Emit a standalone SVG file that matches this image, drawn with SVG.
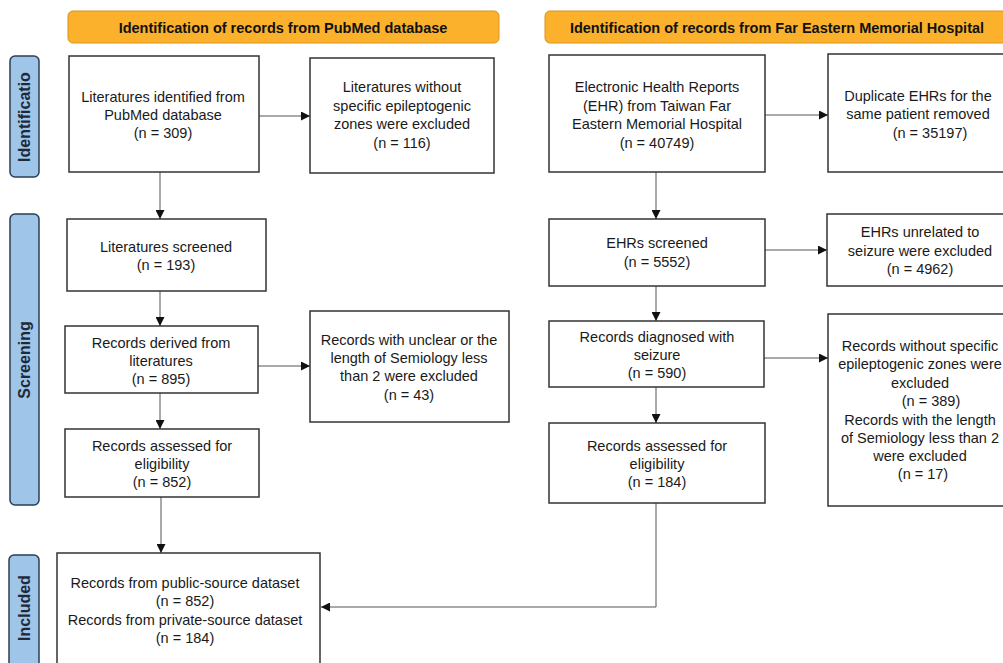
<svg xmlns="http://www.w3.org/2000/svg" width="1003" height="663" viewBox="0 0 1003 663">
<defs>
<marker id="arr" viewBox="0 0 10 10" refX="10" refY="5" markerWidth="9" markerHeight="9" markerUnits="userSpaceOnUse" orient="auto">
<path d="M0,0 L10,5 L0,10 z" fill="#111"/>
</marker>
<style>
.box{fill:#fff;stroke:#333;stroke-width:1.5}
.hdr{fill:#FBB12B;stroke:#D8951F;stroke-width:1}
.side{fill:#9FC5E8;stroke:#2B3E55;stroke-width:1.5}
.t{font-family:"Liberation Sans",Arial,sans-serif;font-size:14.5px;fill:#1a1a1a;text-anchor:middle}
.hb{font-family:"Liberation Sans",Arial,sans-serif;font-size:14.5px;font-weight:bold;fill:#111;text-anchor:middle}
.sb{font-family:"Liberation Sans",Arial,sans-serif;font-size:16px;font-weight:bold;fill:#1E2A3A;text-anchor:middle}
.c{fill:none;stroke:#555;stroke-width:1}
</style>
</defs>
<rect width="1003" height="663" fill="#fff"/>

<g id="header-pubmed"><rect class="hdr" x="68" y="11" width="431" height="32" rx="5"/><text class="hb" x="283" y="33">Identification of records from PubMed database</text></g>
<g id="header-hospital"><rect class="hdr" x="545" y="11" width="465" height="32" rx="5"/><text class="hb" x="777" y="33">Identification of records from Far Eastern Memorial Hospital</text></g>

<g id="side-identification"><rect class="side" x="10" y="56" width="29" height="121" rx="5"/><text class="sb" transform="translate(30,117) rotate(-90)">Identificatio</text></g>
<g id="side-screening"><rect class="side" x="10" y="214" width="29" height="291" rx="5"/><text class="sb" transform="translate(30,360) rotate(-90)">Screening</text></g>
<g id="side-included"><rect class="side" x="9" y="555" width="30" height="120" rx="5"/><text class="sb" transform="translate(30,608) rotate(-90)">Included</text></g>

<g id="connectors">
<path class="c" d="M259,116 H310" marker-end="url(#arr)"/>
<path class="c" d="M160,172 V219" marker-end="url(#arr)"/>
<path class="c" d="M160,291 V326" marker-end="url(#arr)"/>
<path class="c" d="M258,366 H310" marker-end="url(#arr)"/>
<path class="c" d="M160,393 V429" marker-end="url(#arr)"/>
<path class="c" d="M161,497 V553" marker-end="url(#arr)"/>
<path class="c" d="M765,115 H828" marker-end="url(#arr)"/>
<path class="c" d="M656,172 V219" marker-end="url(#arr)"/>
<path class="c" d="M765,250 H827" marker-end="url(#arr)"/>
<path class="c" d="M656,286 V321" marker-end="url(#arr)"/>
<path class="c" d="M764,358 H828" marker-end="url(#arr)"/>
<path class="c" d="M656,387 V423" marker-end="url(#arr)"/>
<path class="c" d="M656,503 V607 H321" marker-end="url(#arr)"/>
</g>

<g id="n-lit-identified"><rect class="box" x="69" y="56" width="190" height="116"/>
<text class="t" x="163" y="102">Literatures identified from</text><text class="t" x="163" y="120">PubMed database</text><text class="t" x="163" y="138">(n = 309)</text></g>
<g id="n-lit-excluded"><rect class="box" x="310" y="58" width="184" height="115"/>
<text class="t" x="402" y="92">Literatures without</text><text class="t" x="402" y="110.5">specific epileptogenic</text><text class="t" x="402" y="129">zones were excluded</text><text class="t" x="402" y="147.5">(n = 116)</text></g>
<g id="n-lit-screened"><rect class="box" x="67" y="219" width="199" height="72"/>
<text class="t" x="166" y="252">Literatures screened</text><text class="t" x="166" y="270">(n = 193)</text></g>
<g id="n-records-derived"><rect class="box" x="65" y="326" width="193" height="67"/>
<text class="t" x="161" y="348">Records derived from</text><text class="t" x="161" y="366">literatures</text><text class="t" x="161" y="384">(n = 895)</text></g>
<g id="n-records-unclear"><rect class="box" x="310" y="311" width="199" height="111"/>
<text class="t" x="409" y="345">Records with unclear or the</text><text class="t" x="409" y="363">length of Semiology less</text><text class="t" x="409" y="381">than 2 were excluded</text><text class="t" x="409" y="400">(n = 43)</text></g>
<g id="n-pub-assessed"><rect class="box" x="65" y="429" width="194" height="68"/>
<text class="t" x="162" y="451">Records assessed for</text><text class="t" x="162" y="469">eligibility</text><text class="t" x="162" y="487">(n = 852)</text></g>
<g id="n-included"><rect class="box" x="57" y="553" width="263" height="130"/>
<text class="t" x="185" y="588">Records from public-source dataset</text><text class="t" x="185" y="606">(n = 852)</text><text class="t" x="185" y="625">Records from private-source dataset</text><text class="t" x="185" y="643">(n = 184)</text></g>

<g id="n-ehr"><rect class="box" x="549" y="55" width="216" height="117"/>
<text class="t" x="657" y="92">Electronic Health Reports</text><text class="t" x="657" y="111">(EHR) from Taiwan Far</text><text class="t" x="657" y="129">Eastern Memorial Hospital</text><text class="t" x="657" y="148">(n = 40749)</text></g>
<g id="n-duplicate"><rect class="box" x="828" y="54" width="190" height="118"/>
<text class="t" x="918" y="101">Duplicate EHRs for the</text><text class="t" x="918" y="119">same patient removed</text><text class="t" x="930" y="138">(n = 35197)</text></g>
<g id="n-ehr-screened"><rect class="box" x="549" y="219" width="216" height="67"/>
<text class="t" x="657" y="248">EHRs screened</text><text class="t" x="657" y="267">(n = 5552)</text></g>
<g id="n-ehr-unrelated"><rect class="box" x="827" y="214" width="190" height="72"/>
<text class="t" x="920" y="237">EHRs unrelated to</text><text class="t" x="920" y="256">seizure were excluded</text><text class="t" x="920" y="274">(n = 4962)</text></g>
<g id="n-diagnosed"><rect class="box" x="549" y="321" width="215" height="66"/>
<text class="t" x="657" y="342">Records diagnosed with</text><text class="t" x="657" y="360">seizure</text><text class="t" x="657" y="378">(n = 590)</text></g>
<g id="n-ehr-excluded"><rect class="box" x="828" y="314" width="190" height="192"/>
<text class="t" x="920" y="351">Records without specific</text><text class="t" x="920" y="369">epileptogenic zones were</text><text class="t" x="920" y="388">excluded</text><text class="t" x="931" y="406">(n = 389)</text><text class="t" x="920" y="425">Records with the length</text><text class="t" x="920" y="443">of Semiology less than 2</text><text class="t" x="920" y="461">were excluded</text><text class="t" x="923" y="479">(n = 17)</text></g>
<g id="n-ehr-assessed"><rect class="box" x="549" y="423" width="216" height="80"/>
<text class="t" x="657" y="451">Records assessed for</text><text class="t" x="657" y="469">eligibility</text><text class="t" x="657" y="487">(n = 184)</text></g>
</svg>
